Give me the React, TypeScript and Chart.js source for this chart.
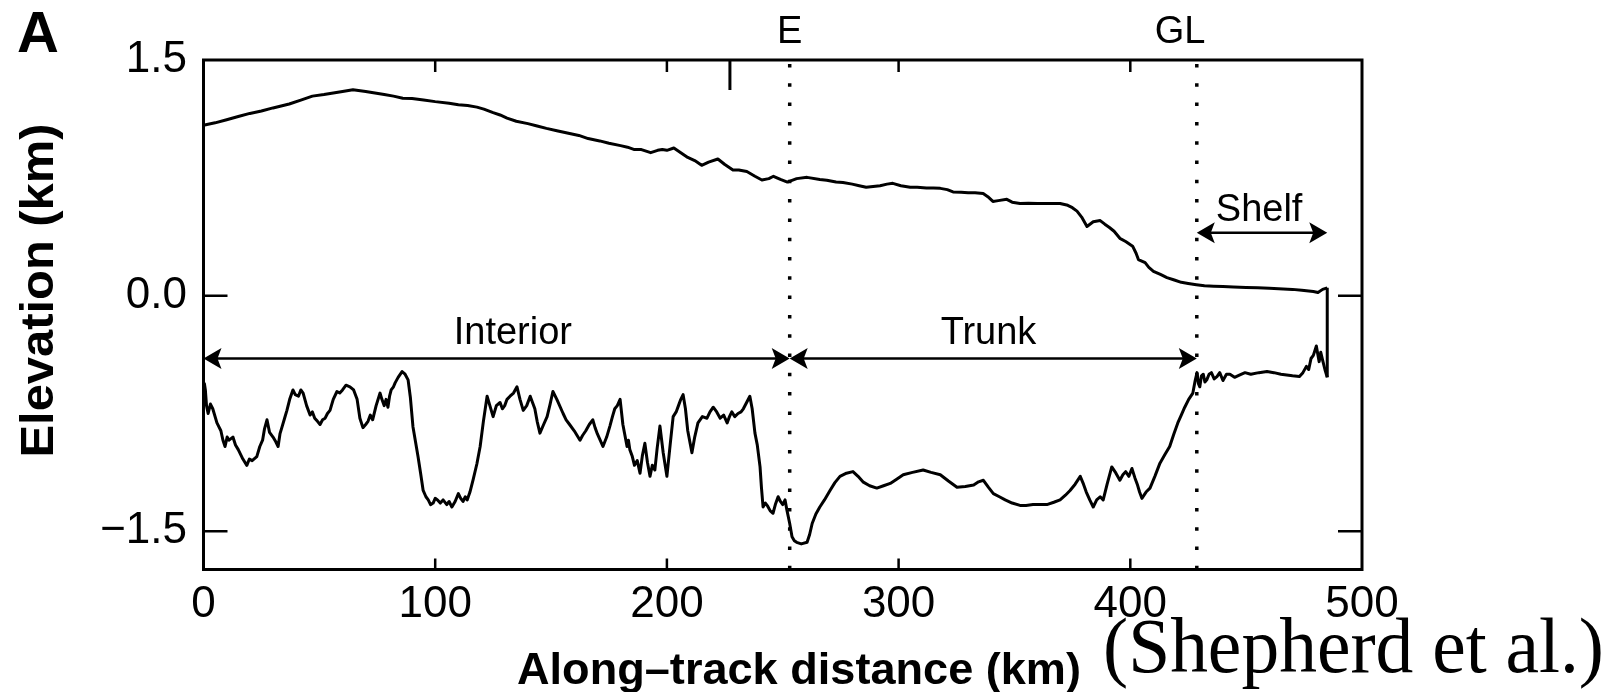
import { useEffect, useRef } from "react";
import { Chart, registerables } from "chart.js";

Chart.register(...registerables);

// Axis ticks
const xTickValues = [0, 100, 200, 300, 400, 500];
const yTickValues = [-1.5, 0, 1.5];
const xMinorTop = [100, 200, 300, 400];
const xMinorBottom = [100, 200, 300, 400];
const yInnerTicks = [0, -1.5];
const topMarkerKm = [227.2];

// Ice surface elevation along the track: [km, km a.s.l.]
const surfaceProfile: [number, number][] = [
  [0, 1.085], [5, 1.1], [10, 1.12], [15, 1.14], [20, 1.16], [25, 1.175], [30, 1.195], [37, 1.22],
  [42, 1.245], [47, 1.27], [52, 1.28], [56, 1.29], [60, 1.3], [64.5, 1.31], [70, 1.3], [74, 1.29],
  [78, 1.28], [82, 1.27], [86, 1.257], [90, 1.255], [95, 1.245], [100, 1.235], [106, 1.225],
  [110, 1.215], [114, 1.21], [118, 1.2], [121, 1.187], [125, 1.165], [128, 1.15], [131, 1.13],
  [135, 1.11], [140, 1.095], [144, 1.08], [148, 1.065], [152.5, 1.05], [157, 1.035], [162, 1.02],
  [166, 1.0], [171, 0.985], [175, 0.97], [180, 0.955], [183, 0.945], [186, 0.93], [189, 0.93],
  [193, 0.91], [196, 0.925], [198, 0.93], [200, 0.925], [203, 0.94], [206, 0.91], [209, 0.88],
  [212, 0.86], [215, 0.83], [218, 0.85], [222, 0.87], [225, 0.835], [228.5, 0.8], [231, 0.8],
  [234.5, 0.79], [238, 0.76], [241, 0.736], [244, 0.745], [246, 0.76], [249, 0.74], [252, 0.723],
  [256, 0.745], [260.5, 0.753], [266, 0.74], [269, 0.735], [273, 0.723], [276, 0.72],
  [280, 0.71], [283, 0.7], [286, 0.69], [289, 0.695], [292, 0.7], [295, 0.71], [297.5, 0.715],
  [301, 0.7], [305, 0.69], [308, 0.69], [312, 0.685], [315, 0.685], [318, 0.683], [321, 0.675],
  [323.5, 0.66], [327, 0.658], [330, 0.655], [333, 0.655], [336.5, 0.65], [338.5, 0.63],
  [340.7, 0.6], [343, 0.605], [346.7, 0.613], [349, 0.595], [352.4, 0.587], [356, 0.588],
  [360, 0.587], [365, 0.587], [369.7, 0.587], [373, 0.575], [375, 0.56], [377, 0.538],
  [379, 0.5], [381.3, 0.44], [384, 0.47], [387, 0.478], [389, 0.455], [391, 0.434], [393, 0.41],
  [395.5, 0.365], [398, 0.345], [401, 0.315], [402.5, 0.27], [403.5, 0.23], [406.4, 0.21],
  [408, 0.18], [410, 0.155], [413, 0.135], [415.8, 0.115], [419, 0.1], [422, 0.085],
  [425, 0.078], [428.5, 0.07], [432, 0.063], [436, 0.06], [440, 0.058], [444.5, 0.055],
  [450, 0.052], [455, 0.05], [460, 0.047], [466, 0.043], [470, 0.04], [474, 0.035],
  [477, 0.03], [479, 0.027], [481, 0.02], [483, 0.04], [485, 0.05],
];

// Bed elevation along the track: [km, km a.s.l.]
const bedProfile: [number, number][] = [
  [0, -0.64], [0.4, -0.56], [0.8, -0.6], [1.3, -0.7], [2, -0.75], [3, -0.69], [4, -0.72],
  [5.8, -0.81], [7.5, -0.86], [8.4, -0.92], [9.3, -0.96], [10.2, -0.9], [11, -0.92],
  [12.7, -0.9], [13.8, -0.95], [15, -0.98], [17, -1.04], [18.7, -1.08], [19.8, -1.04],
  [21, -1.05], [23, -1.025], [24.3, -0.96], [25.5, -0.92], [26.3, -0.85], [27.4, -0.79],
  [28.5, -0.87], [30, -0.9], [31.2, -0.93], [32.2, -0.96], [33, -0.88], [34, -0.83],
  [35, -0.78], [36, -0.73], [37.2, -0.66], [38.6, -0.6], [39.6, -0.63], [41, -0.64],
  [42, -0.6], [43, -0.62], [44.5, -0.7], [46, -0.76], [47, -0.74], [48, -0.78], [49.2, -0.8],
  [50.3, -0.82], [51.4, -0.79], [52.5, -0.78], [53.5, -0.75], [54.6, -0.73], [56, -0.66],
  [57.6, -0.61], [58.8, -0.62], [60, -0.6], [61.5, -0.57], [63.2, -0.58], [64.8, -0.6],
  [66.3, -0.66], [67.5, -0.78], [68.8, -0.84], [70, -0.82], [71, -0.8], [72, -0.76],
  [73, -0.79], [74.5, -0.7], [76.2, -0.62], [77, -0.66], [78, -0.7], [78.8, -0.66],
  [79.6, -0.71], [80.3, -0.64], [81, -0.6], [82, -0.58], [82.7, -0.555], [84, -0.52],
  [85.7, -0.483], [87, -0.5], [88.3, -0.536], [89.3, -0.65], [90.4, -0.834], [91.5, -0.93],
  [92.6, -1.025], [93.7, -1.13], [94.8, -1.24], [96, -1.28], [97, -1.3], [98, -1.33],
  [99.1, -1.32], [100, -1.29], [101, -1.3], [102.2, -1.32], [103.4, -1.3], [105, -1.33],
  [106, -1.31], [107.2, -1.345], [108.6, -1.31], [110, -1.26], [111, -1.29], [112, -1.31],
  [113, -1.28], [113.8, -1.3], [115, -1.25], [116.4, -1.17], [118, -1.07], [119.4, -0.96],
  [120.8, -0.8], [122.4, -0.64], [123.6, -0.7], [125, -0.77], [126.4, -0.7], [128, -0.68],
  [129, -0.72], [130, -0.7], [131, -0.66], [132.3, -0.64], [133.8, -0.62], [135.3, -0.58],
  [136.6, -0.66], [138, -0.73], [139.5, -0.7], [141, -0.64], [142, -0.68], [143, -0.72],
  [144, -0.8], [145.2, -0.875], [146.8, -0.82], [148.3, -0.77], [149.6, -0.69], [150.8, -0.61],
  [152.5, -0.66], [155.2, -0.75], [156.5, -0.79], [158, -0.82], [160, -0.86], [162.5, -0.92],
  [163.6, -0.89], [165, -0.86], [166.5, -0.82], [168, -0.79], [169, -0.84], [170, -0.88],
  [171.2, -0.92], [172.4, -0.96], [174, -0.9], [175.4, -0.83], [176.5, -0.77], [177.5, -0.72],
  [178.6, -0.7], [179.8, -0.66], [181, -0.82], [182.8, -0.96], [183.4, -0.92], [184, -0.98],
  [185, -1.02], [186, -1.08], [187.2, -1.05], [188.4, -1.13], [189.4, -1.02], [190.5, -0.94],
  [191.6, -1.06], [192.7, -1.15], [193.7, -1.08], [194.8, -1.11], [195.8, -0.97], [197, -0.83],
  [198.4, -1.0], [200, -1.15], [201.4, -0.95], [202.7, -0.77], [204, -0.74], [205, -0.7],
  [206, -0.66], [207, -0.63], [208, -0.72], [209, -0.86], [210.8, -1.0], [212, -0.9],
  [213.4, -0.81], [215.3, -0.77], [217.3, -0.78], [218.6, -0.74], [220, -0.71], [221.5, -0.74],
  [223, -0.78], [224.5, -0.76], [226, -0.81], [227, -0.77], [228, -0.74], [229.3, -0.77],
  [230.7, -0.75], [232, -0.74], [233, -0.72], [234.4, -0.68], [235.8, -0.64], [236.8, -0.72],
  [238, -0.875], [239, -0.95], [240.2, -1.09], [240.8, -1.22], [241.5, -1.345], [242.5, -1.32],
  [243.5, -1.34], [244.6, -1.37], [245.8, -1.385], [246.8, -1.33], [248, -1.28], [249, -1.31],
  [250, -1.33], [251, -1.3], [251.8, -1.365], [253, -1.45], [254, -1.535], [255, -1.56],
  [256, -1.57], [258, -1.58], [260.5, -1.57], [261.6, -1.52], [262.7, -1.45], [264.3, -1.39],
  [266, -1.345], [268, -1.3], [270.4, -1.24], [272.5, -1.19], [274.7, -1.15], [277.5, -1.13],
  [280.3, -1.12], [282.5, -1.15], [284.6, -1.185], [287.5, -1.21], [290.6, -1.225],
  [293.5, -1.21], [296.4, -1.195], [299, -1.17], [302, -1.14], [306, -1.125], [310.6, -1.11],
  [314, -1.125], [318, -1.14], [321.5, -1.18], [325.2, -1.22], [328.8, -1.215], [332.4, -1.205],
  [334.5, -1.185], [336.6, -1.175], [338.8, -1.22], [340.9, -1.26], [343.5, -1.28], [346, -1.3],
  [349, -1.32], [352.4, -1.335], [355, -1.335], [358, -1.33], [361, -1.33], [364, -1.33],
  [367, -1.315], [369.7, -1.3], [372, -1.27], [374, -1.24], [376.2, -1.2], [378.4, -1.15],
  [379.8, -1.2], [381, -1.25], [382.5, -1.3], [384, -1.345], [385.5, -1.3], [387, -1.28],
  [388.3, -1.3], [390, -1.2], [392, -1.09], [393.8, -1.13], [395.5, -1.175], [396.8, -1.14],
  [398, -1.12], [399.4, -1.15], [400.7, -1.1], [402, -1.16], [403, -1.2], [404, -1.25],
  [405, -1.29], [406.8, -1.25], [408.5, -1.225], [410.6, -1.15], [412.8, -1.066],
  [415, -1.01], [417, -0.96], [418.8, -0.88], [420.5, -0.81], [422, -0.76], [423.5, -0.71],
  [425.2, -0.66], [427, -0.62], [428, -0.54], [428.8, -0.49], [429.4, -0.56], [430, -0.58],
  [430.7, -0.51], [431.5, -0.5], [432.2, -0.55], [433, -0.536], [434, -0.5], [435, -0.49],
  [436.2, -0.53], [437.4, -0.515], [438.6, -0.49], [440, -0.54], [441.5, -0.5], [443, -0.5],
  [445, -0.52], [447.3, -0.504], [449.5, -0.49], [452, -0.5], [455.5, -0.49], [459, -0.483],
  [462, -0.49], [465, -0.5], [467.5, -0.505], [470, -0.51], [473, -0.515], [474.5, -0.49],
  [476, -0.45], [477, -0.47], [478, -0.4], [479, -0.38], [480.3, -0.32], [481, -0.38],
  [481.5, -0.42], [482.2, -0.36], [483, -0.41], [484, -0.47], [485, -0.52],
];

// Ice front: vertical face joining bed and surface at the end of the shelf
const iceFront: [number, number][] = [[485, -0.52], [485, 0.05]];

// Boundaries marked by dotted verticals
const boundaryNames = ["E", "GL"];
const boundaryKm = [253, 428.7];
const boundaryLabelKm = [253, 421.5];

// Flow zones with double-headed arrows
const zoneNames = ["Interior", "Trunk", "Shelf"];
const zoneStartKm = [0, 253, 428.7];
const zoneEndKm = [253, 428.7, 485];
const zoneArrowElev = [-0.4, -0.4, 0.4];
const zoneLabelKm = [133.5, 338.8, 455.6];
const zoneLabelElev = [-0.306, -0.306, 0.474];

const SANS = '"Liberation Sans", Arial, Helvetica, sans-serif';
const SERIF = '"Liberation Serif", "Times New Roman", serif';

function drawText(
  ctx: CanvasRenderingContext2D,
  text: string,
  x: number,
  y: number,
  font: string,
  align: CanvasTextAlign,
  width?: number,
  rotate?: number
) {
  ctx.save();
  ctx.font = font;
  ctx.fillStyle = "#000";
  ctx.textBaseline = "alphabetic";
  ctx.textAlign = align;
  const w = ctx.measureText(text).width;
  const sx = width ? width / w : 1;
  ctx.translate(x, y);
  if (rotate) ctx.rotate(rotate);
  ctx.scale(sx, 1);
  ctx.fillText(text, 0, 0);
  ctx.restore();
}

function arrowHead(ctx: CanvasRenderingContext2D, tipX: number, y: number, dir: number) {
  const L = 18;
  const H = 10.5;
  const notch = 4;
  ctx.beginPath();
  ctx.moveTo(tipX, y);
  ctx.lineTo(tipX - dir * L, y - H);
  ctx.lineTo(tipX - dir * (L - notch), y);
  ctx.lineTo(tipX - dir * L, y + H);
  ctx.closePath();
  ctx.fill();
}

const decorations = {
  id: "decorations",
  beforeDatasetsDraw(chart: any) {
    const { ctx, chartArea: a, scales } = chart;
    const xs = scales.x;
    ctx.save();
    ctx.strokeStyle = "#000";
    ctx.lineWidth = 3.5;
    ctx.setLineDash([3.5, 15.8]);
    boundaryKm.forEach((km) => {
      const px = xs.getPixelForValue(km);
      ctx.beginPath();
      ctx.moveTo(px, a.top + 4);
      ctx.lineTo(px, a.bottom);
      ctx.stroke();
    });
    ctx.restore();
  },
  afterDatasetsDraw(chart: any) {
    const { ctx, chartArea: a, scales } = chart;
    const xs = scales.x;
    const ys = scales.y;
    ctx.save();
    ctx.strokeStyle = "#000";
    ctx.fillStyle = "#000";

    // frame
    ctx.lineWidth = 3;
    ctx.strokeRect(a.left, a.top, a.right - a.left, a.bottom - a.top);

    // inward tick marks
    ctx.lineWidth = 2.5;
    ctx.beginPath();
    xMinorTop.forEach((v) => {
      const px = xs.getPixelForValue(v);
      ctx.moveTo(px, a.top);
      ctx.lineTo(px, a.top + 12);
    });
    xMinorBottom.forEach((v) => {
      const px = xs.getPixelForValue(v);
      ctx.moveTo(px, a.bottom);
      ctx.lineTo(px, a.bottom - 11);
    });
    yInnerTicks.forEach((v) => {
      const py = ys.getPixelForValue(v);
      ctx.moveTo(a.left, py);
      ctx.lineTo(a.left + 24, py);
      ctx.moveTo(a.right, py);
      ctx.lineTo(a.right - 24, py);
    });
    ctx.stroke();

    ctx.lineWidth = 3;
    ctx.beginPath();
    topMarkerKm.forEach((v) => {
      const px = xs.getPixelForValue(v);
      ctx.moveTo(px, a.top);
      ctx.lineTo(px, a.top + 30);
    });
    ctx.stroke();

    // zone arrows
    ctx.lineWidth = 2.6;
    zoneNames.forEach((name, i) => {
      const x0 = xs.getPixelForValue(zoneStartKm[i]);
      const x1 = xs.getPixelForValue(zoneEndKm[i]);
      const py = ys.getPixelForValue(zoneArrowElev[i]);
      ctx.beginPath();
      ctx.moveTo(x0 + 6, py);
      ctx.lineTo(x1 - 6, py);
      ctx.stroke();
      arrowHead(ctx, x0, py, -1);
      arrowHead(ctx, x1, py, 1);
      drawText(
        ctx,
        name,
        xs.getPixelForValue(zoneLabelKm[i]),
        ys.getPixelForValue(zoneLabelElev[i]),
        `38px ${SANS}`,
        "center"
      );
    });

    // boundary names above the frame
    boundaryNames.forEach((name, i) => {
      drawText(ctx, name, xs.getPixelForValue(boundaryLabelKm[i]), a.top - 17, `38px ${SANS}`, "center");
    });

    // axis titles and panel letter
    drawText(ctx, "Along\u2013track distance (km)", 799, 684, `bold 45px ${SANS}`, "center", 564);
    drawText(ctx, "Elevation (km)", 53, 290.5, `bold 47px ${SANS}`, "center", 334, -Math.PI / 2);
    drawText(ctx, "A", 17, 52, `bold 58px ${SANS}`, "left");
    drawText(ctx, "(Shepherd et al.)", 1103, 672, `78px ${SERIF}`, "left", 501);
    ctx.restore();
  },
};

export default function App() {
  const canvasRef = useRef<HTMLCanvasElement | null>(null);

  useEffect(() => {
    const canvas = canvasRef.current;
    if (!canvas) return;
    const lineStyle = {
      borderColor: "#000",
      borderWidth: 3,
      pointRadius: 0,
      tension: 0,
      fill: false,
      borderJoinStyle: "round" as const,
    };
    const chart = new Chart(canvas, {
      type: "line",
      data: {
        datasets: [
          { label: "Surface", data: surfaceProfile.map(([x, y]) => ({ x, y })), ...lineStyle },
          { label: "Bed", data: bedProfile.map(([x, y]) => ({ x, y })), ...lineStyle },
          { label: "Ice front", data: iceFront.map(([x, y]) => ({ x, y })), ...lineStyle },
        ],
      },
      options: {
        animation: false,
        responsive: false,
        maintainAspectRatio: false,
        layout: { padding: { left: 0, top: 60, right: 250, bottom: 0 } },
        plugins: { legend: { display: false }, tooltip: { enabled: false }, title: { display: false } },
        scales: {
          x: {
            type: "linear",
            min: 0,
            max: 500,
            grid: { display: false, drawTicks: false },
            border: { display: false },
            afterBuildTicks: (scale: any) => {
              scale.ticks = xTickValues.map((value) => ({ value }));
            },
            afterFit: (scale: any) => {
              scale.height = 122.5;
            },
            ticks: {
              color: "#000",
              padding: 9,
              font: { family: SANS, size: 44 },
              maxRotation: 0,
              autoSkip: false,
              callback: (v: any) => String(v),
            },
          },
          y: {
            type: "linear",
            min: -1.743,
            max: 1.5,
            grid: { display: false, drawTicks: false },
            border: { display: false },
            afterBuildTicks: (scale: any) => {
              scale.ticks = yTickValues.map((value) => ({ value }));
            },
            afterFit: (scale: any) => {
              scale.width = 203.5;
            },
            ticks: {
              color: "#000",
              padding: 16.5,
              font: { family: SANS, size: 44 },
              callback: (v: any) => {
                const n = Number(v);
                return n < 0 ? "\u2212" + Math.abs(n).toFixed(1) : n.toFixed(1);
              },
            },
          },
        },
      },
      plugins: [decorations],
    });
    return () => chart.destroy();
  }, []);

  return (
    <div style={{ position: "fixed", left: 0, top: 0, width: 1612, height: 692, background: "#fff" }}>
      <canvas ref={canvasRef} width={1612} height={692} style={{ display: "block" }} />
    </div>
  );
}
